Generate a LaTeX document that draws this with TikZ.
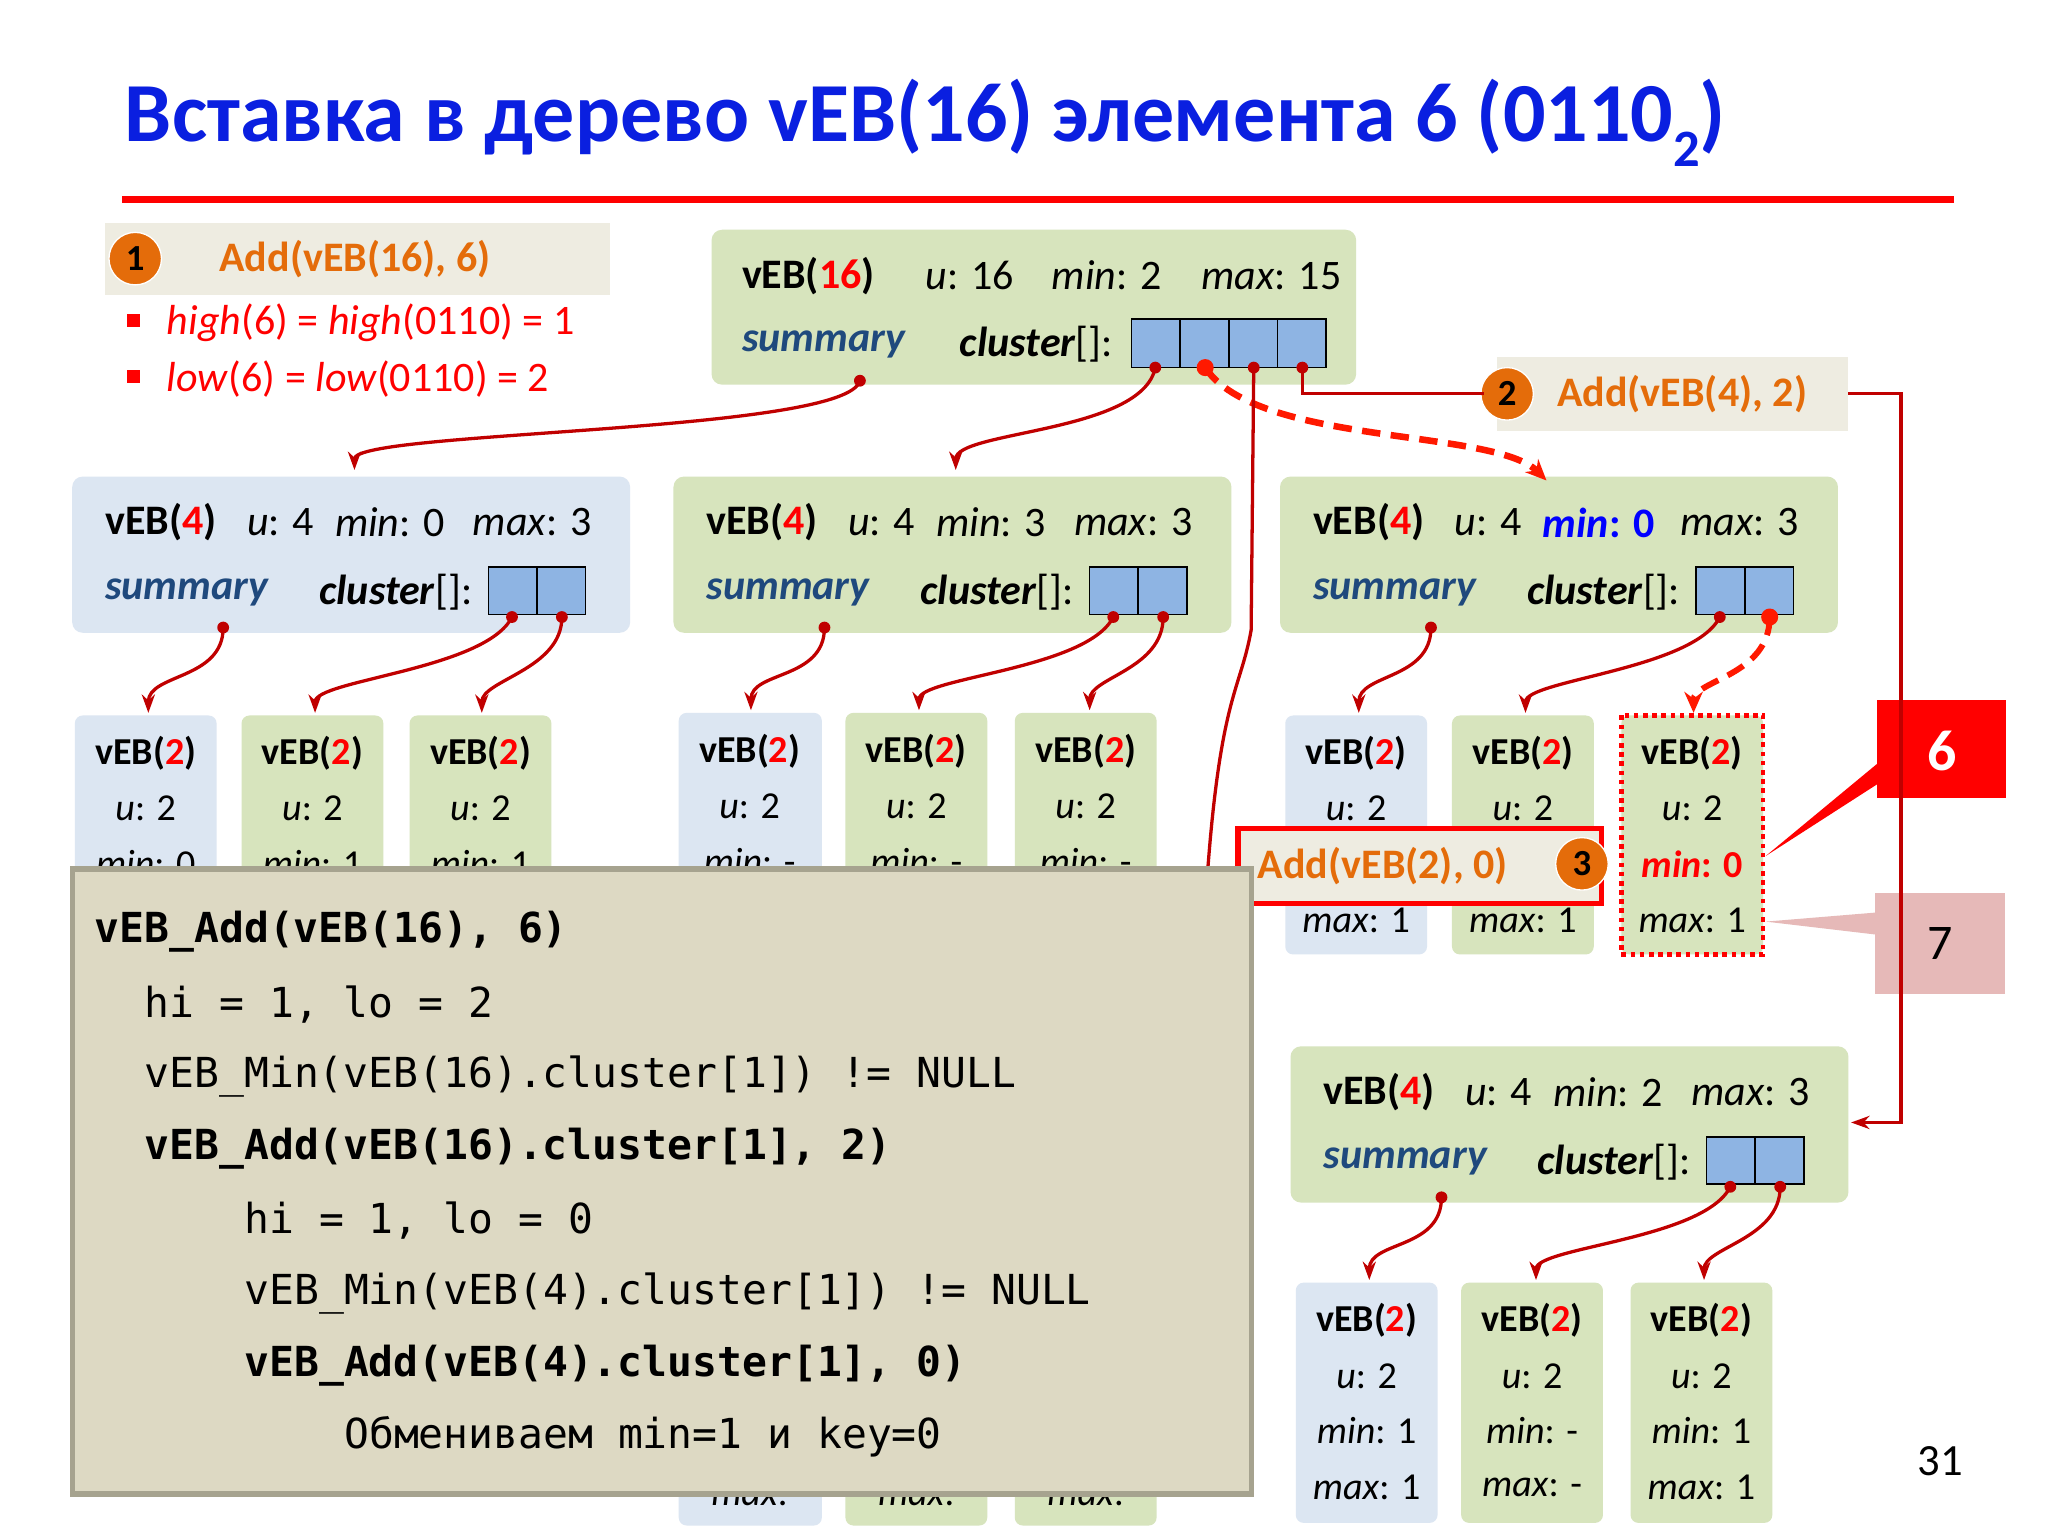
\documentclass[tikz,border=0pt]{standalone}
\usepackage{fontspec}
\setmainfont{Carlito}
\setmonofont{DejaVu Sans Mono}
\usetikzlibrary{arrows.meta}
\definecolor{gr}{HTML}{D7E4BD}
\definecolor{bl}{HTML}{DCE6F2}
\definecolor{cb}{HTML}{8EB4E3}
\definecolor{sb}{HTML}{1F497D}
\definecolor{orr}{HTML}{E46C0A}
\definecolor{beig}{HTML}{EEECE1}
\definecolor{code}{HTML}{DDD9C3}
\definecolor{codeb}{HTML}{A6A38F}
\definecolor{dr}{HTML}{C00000}
\definecolor{ttl}{HTML}{0A1FE0}
\definecolor{pink}{HTML}{E6B9B8}
\tikzset{
 bx/.style={rounded corners=8pt,draw=none},
 tx/.style={font=\fontsize{32}{34}\selectfont,anchor=west,inner sep=0pt},
 sm/.style={font=\fontsize{29}{32}\selectfont,inner sep=0pt},
 cl/.style={draw=black,fill=cb,line width=1.2pt},
 lnk/.style={draw=dr,line width=2.5pt,-{Stealth[length=14pt,width=10pt]}},
 dlnk/.style={draw=red!80!orange,line width=5pt,dash pattern=on 14pt off 8pt,-{Stealth[length=16pt,width=14pt]}},
 dot/.style={circle,fill=#1,inner sep=0pt,minimum size=9pt},
 cd/.style={font=\fontsize{31.5}{34}\selectfont\ttfamily,anchor=west,inner sep=0pt},
 circ/.style={circle,fill=orr,draw=white,line width=1pt,minimum size=40pt,inner sep=0pt,font=\fontsize{28}{30}\selectfont\bfseries},
}
\newcommand\vebT[1]{\textbf{vEB(\textcolor{red}{#1})}}
\newcommand\vebfour[6]{%
 \fill[#4,rounded corners=8pt] (#2,#3) rectangle (#2+425,#3+119);
 \node[tx] (#1t) at (#2+25,#3+35) {\vebT{4}};
 \node[tx] (#1u) at (#2+133,#3+35) {\textit{u}: 4};
 \node[tx] (#1m) at (#2+200,#3+35) {#5};
 \node[tx] (#1x) at (#2+305,#3+35) {\textit{max}: #6};
 \node[tx,text=sb] (#1s) at (#2+25,#3+88) {\textbf{\textit{summary}}};
 \node[tx] (#1c) at (#2+188,#3+88) {\textbf{\textit{cluster}}[]:};
 \draw[cl] (#2+317,#3+69) rectangle (#2+354,#3+105);
 \draw[cl] (#2+354,#3+69) rectangle (#2+391,#3+105);
}
\newcommand\vebtwo[7]{%
 \fill[#5,rounded corners=6pt] (#2,#3) rectangle (#2+108,#3+#4);
 \node[sm] (#1a) at (#2+54,#3+29) {\vebT{2}};
 \node[sm] (#1b) at (#2+54,#3+71) {\textit{u}: 2};
 \node[sm] (#1c) at (#2+54,#3+113) {#6};
 \node[sm] (#1d) at (#2+54,#3+156) {#7};
}
\newcommand\kids[3]{%
 \coordinate (#1s0) at (#2+115,#3+115); \coordinate (#1s1) at (#2+335,#3+107); \coordinate (#1s2) at (#2+373,#3+107);
}
\begin{document}
\begin{tikzpicture}[x=1pt,y=-1pt]
\useasboundingbox (0,0) rectangle (1560,1170);
\fill[white] (0,0) rectangle (1560,1170);
\node[anchor=base west,inner sep=0pt,text=ttl,font=\fontsize{64}{68}\selectfont\bfseries] (title) at (95,108) {Вставка в дерево vEB(16) элемента 6 (0110\raisebox{-0.3em}{\fontsize{40}{44}\selectfont 2})};
\draw[red,line width=5pt] (93,152) -- (1488,152);
\fill[beig] (80,170) rectangle (465,225);
\node[circ] (c1) at (103,197) {1};
\node[tx,text=orr] (add1) at (167,197) {\textbf{Add(vEB(16), 6)}};
\fill[red] (97,239) rectangle (107,249);
\fill[red] (97,282) rectangle (107,292);
\node[tx,text=red] (hi) at (127,246) {\textit{high}(6) = \textit{high}(0110) = 1};
\node[tx,text=red] (lo) at (127,289) {\textit{low}(6) = \textit{low}(0110) = 2};
\fill[gr,rounded corners=8pt] (542,175) rectangle (1033,293);
\node[tx] (rt) at (565,210) {\vebT{16}};
\node[tx] (ru) at (705,210) {\textit{u}: 16};
\node[tx] (rm) at (801,210) {\textit{min}: 2};
\node[tx] (rx) at (915,210) {\textit{max}: 15};
\node[tx,text=sb] (rs) at (565,262) {\textbf{\textit{summary}}};
\node[tx] (rc) at (731,262) {\textbf{\textit{cluster}}[]:};
\foreach \i in {0,1,2,3} \draw[cl] (862+37*\i,243) rectangle (899+37*\i,280);
\fill[beig] (1140,272) rectangle (1408,328);
\node[circ] (c2) at (1148,300) {2};
\node[tx,text=orr] (add2) at (1186,300) {\textbf{Add(vEB(4), 2)}};
\vebfour{A}{55}{363}{bl}{\textit{min}: 0}{3}
\vebfour{B}{513}{363}{gr}{\textit{min}: 3}{3}
\vebfour{C}{975}{363}{gr}{\textcolor{blue}{\textbf{\textit{min}: 0}}}{3}
\vebfour{D}{983}{797}{gr}{\textit{min}: 2}{3}
\vebtwo{a1}{57}{545}{180}{bl}{\textit{min}: 0}{}
\vebtwo{a2}{184}{545}{180}{gr}{\textit{min}: 1}{}
\vebtwo{a3}{312}{545}{180}{gr}{\textit{min}: 1}{}
\fill[bl,rounded corners=6pt] (517,543) rectangle (626,1162);
\fill[gr,rounded corners=6pt] (644,543) rectangle (752,1162);
\fill[gr,rounded corners=6pt] (773,543) rectangle (881,1162);
\node[sm] (b1a) at (571,572) {\vebT{2}};
\node[sm] (b1b) at (571,614) {\textit{u}: 2};
\node[sm] (b1c) at (571,656) {\textit{min}: -};
\node[sm] (b1d) at (571,1140) {\textit{max}:};
\node[sm] (b2a) at (698,572) {\vebT{2}};
\node[sm] (b2b) at (698,614) {\textit{u}: 2};
\node[sm] (b2c) at (698,656) {\textit{min}: -};
\node[sm] (b2d) at (698,1140) {\textit{max}:};
\node[sm] (b3a) at (827,572) {\vebT{2}};
\node[sm] (b3b) at (827,614) {\textit{u}: 2};
\node[sm] (b3c) at (827,656) {\textit{min}: -};
\node[sm] (b3d) at (827,1140) {\textit{max}:};
\vebtwo{c1}{979}{545}{182}{bl}{}{\textit{max}: 1}
\vebtwo{c2}{1106}{545}{182}{gr}{}{\textit{max}: 1}
\vebtwo{c3}{1235}{545}{182}{gr}{\textcolor{red}{\textbf{\textit{min}: 0}}}{\textit{max}: 1}
\draw[red,line width=3.5pt,dash pattern=on 3.5pt off 3.5pt] (1235,545) rectangle (1343,727);
\vebtwo{d1}{987}{977}{183}{bl}{\textit{min}: 1}{\textit{max}: 1}
\vebtwo{d2}{1113}{977}{183}{gr}{\textit{min}: -}{\textit{max}: -}
\vebtwo{d3}{1242}{977}{183}{gr}{\textit{min}: 1}{\textit{max}: 1}
\draw[red,line width=4pt,fill=beig] (943,631) rectangle (1220,688);
\node[tx,text=orr] (add3) at (958,660) {\textbf{Add(vEB(2), 0)}};
\node[circ] (c3) at (1205,658) {3};
\fill[red] (1430,533) rectangle (1528,608);
\node[font=\fontsize{44}{46}\selectfont\bfseries,text=white] (six) at (1479,572) {6};
\fill[red] (1432,580) -- (1345,652) -- (1432,596) -- cycle;
\fill[pink] (1428,680) rectangle (1527,757);
\node[font=\fontsize{38}{40}\selectfont,text=black] (seven) at (1478,719) {7};
\fill[pink] (1430,695) -- (1345,702) -- (1430,712) -- cycle;
\coordinate (p0) at (655,290); \coordinate (q0) at (270,358);
\coordinate (p1) at (880,280); \coordinate (q1) at (728,358);
\coordinate (p2) at (918,280); \coordinate (q2) at (1178,366);
\coordinate (p3) at (955,280); \coordinate (q3) at (920,662);
\coordinate (p4) at (992,280); \coordinate (q4) at (1130,300);
\draw[lnk] (p0) .. controls +(-10,40) and +(0,-30) .. (q0);
\draw[lnk] (p1) .. controls +(-10,50) and +(0,-30) .. (q1);
\draw[dlnk] (p2) .. controls +(40,60) and +(-40,-40) .. (q2);
\draw[draw=dr,line width=2.5pt] (p3) -- (953,480) .. controls (945,525) and (930,530) .. (q3);
\draw[draw=dr,line width=2.5pt] (p4) |- (q4);
\coordinate (e2) at (1408,300); \coordinate (f2) at (1410,855);
\draw[lnk] (e2) -- (1448,300) -- (1448,855) -- (f2);
\foreach \p in {p0,p1,p3,p4} \node[dot=dr] at (\p) {};
\node[dot=red!80!orange,minimum size=13pt] at (p2) {};
\kids{A}{55}{363}\kids{B}{513}{363}\kids{C}{975}{363}\kids{D}{983}{797}
\coordinate (Ak0) at (113,543); \coordinate (Ak1) at (240,543); \coordinate (Ak2) at (367,543);
\coordinate (Bk0) at (572,541); \coordinate (Bk1) at (700,541); \coordinate (Bk2) at (830,541);
\coordinate (Ck0) at (1035,543); \coordinate (Ck1) at (1162,543); \coordinate (Ck2) at (1290,543);
\coordinate (Dk0) at (1043,975); \coordinate (Dk1) at (1170,975); \coordinate (Dk2) at (1298,975);
\foreach \n in {A,B,C,D}{
 \draw[lnk] (\n s0) .. controls +(0,40) and +(0,-30) .. (\n k0);
 \draw[lnk] (\n s1) .. controls +(-20,40) and +(0,-25) .. (\n k1);
 \node[dot=dr] at (\n s0) {}; \node[dot=dr] at (\n s1) {};
}
\foreach \n in {A,B,D}{
 \draw[lnk] (\n s2) .. controls +(0,40) and +(0,-25) .. (\n k2);
 \node[dot=dr] at (\n s2) {};
}
\draw[dlnk,line width=4.5pt] (Cs2) .. controls +(0,45) and +(0,-25) .. (Ck2);
\node[dot=red!80!orange,minimum size=13pt] at (Cs2) {};
\draw[draw=codeb,line width=4pt,fill=code] (55,662) rectangle (953,1138);
\node[cd] (l1) at (72,710) {\bfseries vEB\_Add(vEB(16), 6)};
\node[cd] (l2) at (110,765) {hi = 1, lo = 2};
\node[cd] (l3) at (110,820) {vEB\_Min(vEB(16).cluster[1]) != NULL};
\node[cd] (l4) at (110,875) {\bfseries vEB\_Add(vEB(16).cluster[1], 2)};
\node[cd] (l5) at (186,930) {hi = 1, lo = 0};
\node[cd] (l6) at (186,985) {vEB\_Min(vEB(4).cluster[1]) != NULL};
\node[cd] (l7) at (186,1040) {\bfseries vEB\_Add(vEB(4).cluster[1], 0)};
\node[cd] (l8) at (262,1094) {Обмениваем min=1 и key=0};
\node[font=\fontsize{34}{36}\selectfont] (pg) at (1478,1113) {31};
\end{tikzpicture}
\end{document}
